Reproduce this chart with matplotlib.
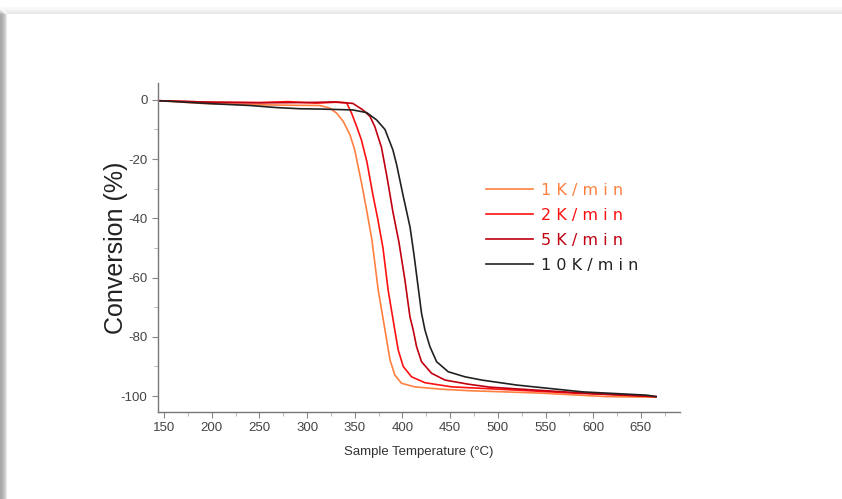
import matplotlib
matplotlib.use("Agg")
import matplotlib.pyplot as plt
from matplotlib.patches import Rectangle
from matplotlib.ticker import MultipleLocator

plt.rcParams["axes.unicode_minus"] = False

# (temperature in degC, conversion in %)
t_1k = [146, 190, 240, 280, 313.5, 324, 331, 338, 345, 350, 357.5, 362.8, 368, 374.6,
        381.7, 387, 392, 399, 413, 441, 470, 544, 614, 665]
c_1k = [-0.3, -1.2, -1.6, -1.8, -1.9, -2.8, -4.5, -7.3, -11.8, -16.9, -28.7, -37.8,
        -47.3, -64.2, -77.7, -87.8, -92.9, -95.7, -96.9, -97.7, -98.2, -99.0, -100.2, -100.4]

t_2k = [146, 200, 250, 280, 310, 330, 341.5, 346.7, 352, 357, 362.8, 369, 374, 379.6,
        385, 392, 395.6, 400.8, 409.5, 423.6, 451.6, 520, 579, 640, 666]
c_2k = [-0.3, -0.8, -0.9, -0.6, -1.1, -0.8, -1.0, -4.5, -9, -13.5, -21, -32, -40, -50,
        -64.2, -77.7, -84.5, -90, -93.5, -95.5, -96.9, -98.0, -99.0, -99.8, -100.2]

t_5k = [146, 200, 250, 300, 330, 348, 358.6, 366, 371, 378, 383.8, 390, 396.3, 402.6,
        407.9, 411.3, 414.8, 420, 430.5, 444.5, 469, 491.7, 540, 600, 666]
c_5k = [-0.3, -0.8, -1.0, -0.9, -0.7, -1.2, -3.4, -5.6, -9, -16, -26, -37.8, -48, -60.8,
        -73.3, -77.7, -83.3, -88.4, -92.3, -94.6, -96, -97, -98, -99.2, -100.2]

t_10k = [146, 200, 240, 268, 292.5, 313.5, 348, 362.5, 373, 381.7, 390, 394, 400.5, 408,
         412, 416, 420, 423.6, 428.8, 435.8, 448, 465.5, 483, 520, 589, 656, 666]
c_10k = [-0.3, -1.3, -1.9, -2.6, -3.0, -3.1, -3.4, -4.3, -6.8, -10, -16.9, -22, -32, -43,
         -52, -62, -72, -77.7, -83.3, -88.4, -91.8, -93.5, -94.6, -96.3, -98.6, -99.7, -100.2]

labels = ["1K/min", "2K/min", "5K/min", "10K/min"]
colors = ["#ff8040", "#ff1010", "#c00010", "#222222"]

fig = plt.figure(figsize=(8.42, 4.99), dpi=100)
fig.patch.set_facecolor("white")

# soft card shadow along the top and left edges
for i in range(7):
    a = 0.09 - i * 0.012
    fig.patches.append(Rectangle((0, 0), (7 - i) / 842, 1 - (14 - i) / 499,
                                 transform=fig.transFigure, color="black", alpha=a, lw=0))
    fig.patches.append(Rectangle(((7 - i) / 842, 1 - (14 - i) / 499), 1, 1 / 499,
                                 transform=fig.transFigure, color="black", alpha=a, lw=0))

ax = fig.add_axes([0.1876, 0.1743, 0.62, 0.6594])
for t, c, lab, col in zip([t_1k, t_2k, t_5k, t_10k], [c_1k, c_2k, c_5k, c_10k], labels, colors):
    ax.plot(t, c, color=col, lw=1.2, label=" ".join(lab))

ax.set_xlim(143.7, 691)
ax.set_ylim(-105.4, 5.7)
ax.xaxis.set_major_locator(MultipleLocator(50))
ax.xaxis.set_minor_locator(MultipleLocator(25))
ax.yaxis.set_major_locator(MultipleLocator(20))
ax.yaxis.set_minor_locator(MultipleLocator(10))

for s in ["top", "right"]:
    ax.spines[s].set_visible(False)
for s in ["left", "bottom"]:
    ax.spines[s].set_color("#777777")
    ax.spines[s].set_linewidth(1.0)

ax.tick_params(axis="both", which="major", length=4, color="#888888",
               labelcolor="#444444", labelsize=9.5)
ax.tick_params(axis="both", which="minor", length=3, color="#aaaaaa")
for lab in ax.get_xticklabels() + ax.get_yticklabels():
    lab.set_family("Liberation Sans")

ax.set_xlabel("Sample Temperature (°C)", family="Liberation Sans", fontsize=9.5,
              color="#333333", labelpad=8)
ax.set_ylabel("Conversion (%)", family="Liberation Sans", fontsize=18,
              color="#222222", labelpad=-5)

ax.legend(loc="upper left", bbox_to_anchor=(0.6, 0.74), frameon=False,
          fontsize=11.5, handlelength=3.0, handletextpad=0.5, labelspacing=0.62,
          labelcolor="linecolor")

fig.savefig("out.png", dpi=100)
